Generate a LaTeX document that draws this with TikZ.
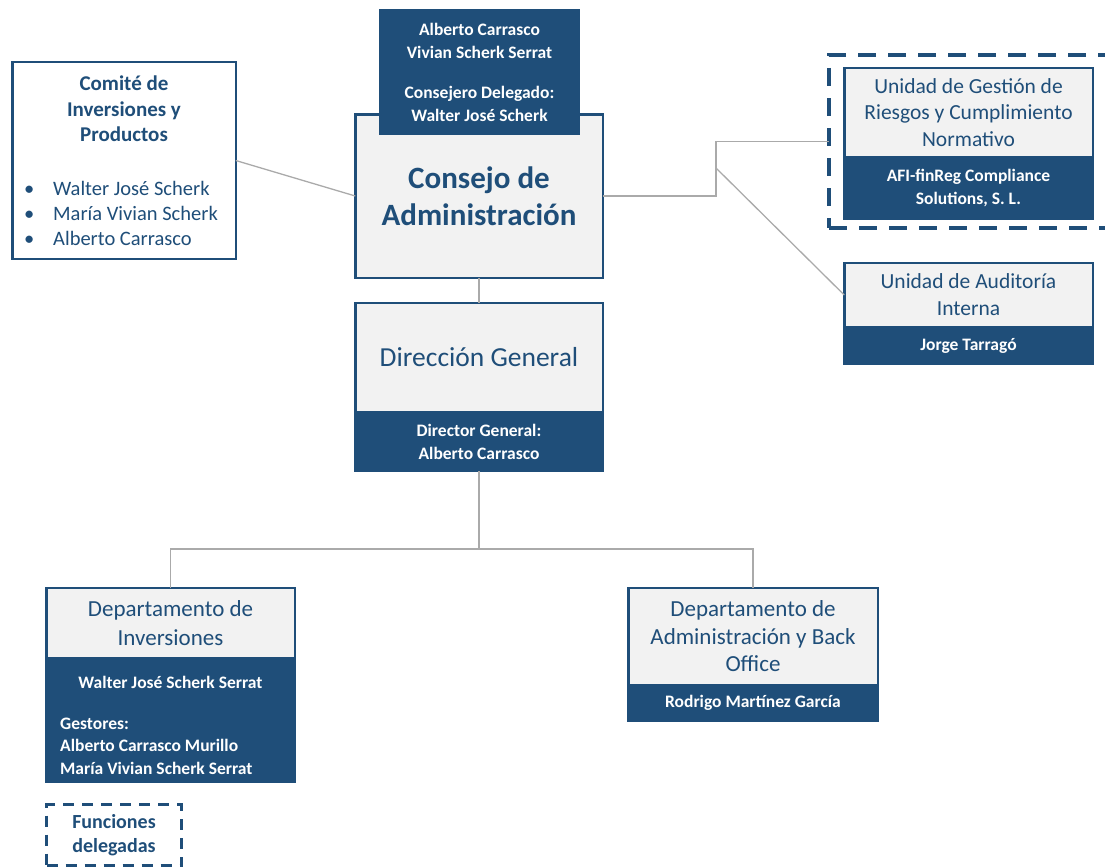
\documentclass[tikz,border=0pt]{standalone}
\usepackage{fontspec}
\setmainfont{Carlito}
\usetikzlibrary{positioning}
\definecolor{orgblue}{RGB}{31,78,121}
\definecolor{orggray}{RGB}{242,242,242}
\definecolor{linkgray}{RGB}{170,170,170}
\tikzset{
  box/.style={draw=orgblue, line width=2.5pt, inner sep=0pt, outer sep=0pt, align=center},
  headbox/.style={box, fill=orggray, text=orgblue},
  namebox/.style={box, fill=orgblue, text=white, font=\fontsize{17.5}{23}\selectfont\bfseries},
  nametext/.style={text=white, inner sep=0pt, font=\fontsize{17.5}{22.5}\selectfont\bfseries},
  delegbox/.style={draw=orgblue, inner sep=0pt, outer sep=0pt},
  link/.style={draw=linkgray, line width=1.3pt},
}
\begin{document}
\begin{tikzpicture}[x=1pt,y=-1pt]
\useasboundingbox (0,0) rectangle (1105,867);
\node [box, fill=white, minimum width=223.5pt, minimum height=196.5pt] (comite) at (124,160.5) {};
\node [text=orgblue, align=center, font=\fontsize{21}{25.5}\selectfont\bfseries] (comitetitle) at (124,109) {Comité de\\Inversiones y\\Productos};
\node [text=orgblue, align=left, anchor=west, inner sep=0pt, font=\fontsize{20.5}{25}\selectfont] (comitelist) at (24,213)
  {\makebox[29pt][l]{\textbullet}Walter José Scherk\\\makebox[29pt][l]{\textbullet}María Vivian Scherk\\\makebox[29pt][l]{\textbullet}Alberto Carrasco};
\node [headbox, minimum width=247.5pt, minimum height=163.5pt, font=\fontsize{31}{37}\selectfont\bfseries] (consejo) at (479,196) {Consejo de\\Administración};
\node [namebox, minimum width=198.5pt, minimum height=123.5pt] (consejero) at (479.5,72)
  {Alberto Carrasco\\Vivian Scherk Serrat\\[17pt]Consejero Delegado:\\Walter José Scherk};
\node [delegbox, line width=4pt, dash pattern=on 18pt off 12pt, minimum width=282pt, minimum height=173pt] (riskframe) at (970,141.5) {};
\node [headbox, minimum width=248.5pt, minimum height=89pt, font=\fontsize{21.5}{26.5}\selectfont] (riskhead) at (968.5,112.5)
  {Unidad de Gestión de\\Riesgos y Cumplimiento\\Normativo};
\node [namebox, minimum width=248.5pt, minimum height=62pt, below=0pt of riskhead] (riskbody) {AFI-finReg Compliance\\Solutions, S. L.};
\node [headbox, minimum width=248.5pt, minimum height=64pt, font=\fontsize{21.5}{27}\selectfont] (audithead) at (968.5,295)
  {Unidad de Auditoría\\Interna};
\node [namebox, minimum width=248.5pt, minimum height=37pt, below=0pt of audithead] (auditbody) {Jorge Tarragó};
\node [headbox, minimum width=247.5pt, minimum height=109pt, font=\fontsize{27.5}{33}\selectfont] (dghead) at (479,357.5) {Dirección General};
\node [namebox, minimum width=247.5pt, minimum height=59pt, below=0pt of dghead] (dgbody) {Director General:\\Alberto Carrasco};
\node [headbox, minimum width=248.5pt, minimum height=70pt, font=\fontsize{23}{29}\selectfont] (invhead) at (170.5,623) {Departamento de\\Inversiones};
\node [namebox, minimum width=248.5pt, minimum height=124pt, below=0pt of invhead] (invbody) {};
\node [nametext] (invlead) at (170.5,682) {Walter José Scherk Serrat};
\node [nametext, anchor=west, align=left] (invstaff) at (60,746) {Gestores:\\Alberto Carrasco Murillo\\María Vivian Scherk Serrat};
\node [headbox, minimum width=249.5pt, minimum height=97pt, font=\fontsize{23}{27.5}\selectfont] (admhead) at (753,636.5)
  {Departamento de\\Administración y Back\\Office};
\node [namebox, minimum width=249.5pt, minimum height=36pt, below=0pt of admhead] (admbody) {Rodrigo Martínez García};
\node [delegbox, line width=3pt, dash pattern=on 11pt off 8pt, minimum width=135pt, minimum height=61pt, text=orgblue, align=center,
  font=\fontsize{20}{24}\selectfont\bfseries] (funciones) at (114,835) {Funciones\\delegadas};
\coordinate (riskfork) at (716,141.5);
\coordinate (auditfork) at (716,168);
\coordinate (deptbus) at (479,549);
\draw [link] (comite.east) -- (consejo.west);
\draw [link] (consejo.east) -| (riskfork) -- (riskframe.west);
\draw [link] (auditfork) -- (audithead.west);
\draw [link] (consejo.south) -- (dghead.north);
\draw [link] (dgbody.south) -- (deptbus) -| (invhead.north);
\draw [link] (deptbus) -| (admhead.north);
\end{tikzpicture}
\end{document}
